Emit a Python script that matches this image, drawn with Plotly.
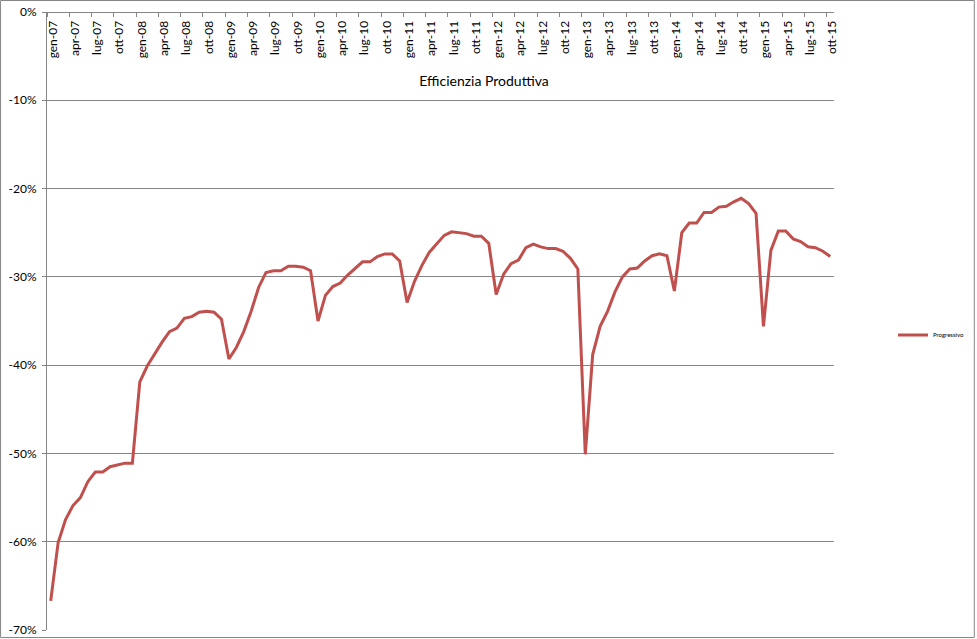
import plotly.graph_objects as go

# ---- data ----
month_names = ["gen", "feb", "mar", "apr", "mag", "giu", "lug", "ago", "set", "ott", "nov", "dic"]
years = ["07", "08", "09", "10", "11", "12", "13", "14", "15"]
categories = [f"{m}-{y}" for y in years for m in month_names][:106]  # gen-07 .. ott-15

progressivo = [
    -66.7, -60.1, -57.5, -55.9, -55.0, -53.2, -52.1, -52.1, -51.5, -51.3, -51.1, -51.1,   # 2007
    -41.9, -40.1, -38.7, -37.4, -36.2, -35.8, -34.7, -34.5, -34.0, -33.9, -34.0, -34.8,   # 2008
    -39.3, -38.0, -36.2, -33.9, -31.2, -29.5, -29.3, -29.3, -28.8, -28.8, -28.9, -29.3,   # 2009
    -35.0, -32.1, -31.1, -30.7, -29.8, -29.1, -28.3, -28.3, -27.7, -27.4, -27.4, -28.2,   # 2010
    -32.9, -30.5, -28.7, -27.2, -26.2, -25.3, -24.9, -25.0, -25.1, -25.4, -25.4, -26.2,   # 2011
    -32.0, -29.7, -28.5, -28.1, -26.7, -26.3, -26.6, -26.8, -26.8, -27.1, -27.9, -29.1,   # 2012
    -50.1, -38.8, -35.6, -33.9, -31.7, -30.0, -29.1, -29.0, -28.2, -27.6, -27.4, -27.6,   # 2013
    -31.6, -25.0, -23.9, -23.9, -22.7, -22.7, -22.1, -22.0, -21.5, -21.1, -21.7, -22.8,   # 2014
    -35.6, -27.0, -24.8, -24.8, -25.7, -26.0, -26.6, -26.7, -27.1, -27.7,                 # 2015
]
y_ticks = [0, -10, -20, -30, -40, -50, -60, -70]
y_tick_labels = [f"{v}%" for v in y_ticks]

title_text = "Efficienzia Produttiva"
series_name = "Progressivo"

# ---- figure ----
W, H = 977, 639
ML, MR, MT, MB = 47, 142, 12, 9
pw, ph = W - ML - MR, H - MT - MB
grid = "#868686"
xrange_ = [-0.5, len(categories) - 0.5]

fig = go.Figure()
# helper (invisible) trace so the label axis inside the plot has the categories
fig.add_trace(go.Scatter(
    x=categories, y=progressivo, mode="lines", xaxis="x2", yaxis="y",
    line=dict(color="rgba(0,0,0,0)", width=0), showlegend=False, hoverinfo="skip",
))
fig.add_trace(go.Scatter(
    x=categories, y=progressivo, mode="lines", name=series_name,
    line=dict(color="#C0504D", width=3),
))

fig.update_layout(
    width=W, height=H,
    margin=dict(l=ML, r=MR, t=MT, b=MB, pad=0),
    paper_bgcolor="white", plot_bgcolor="white",
    font=dict(family="Lato, 'Liberation Sans', sans-serif", color="black", size=12),
    showlegend=True,
    legend=dict(
        x=(893 - ML) / pw, y=(H - MB - 335) / ph, xanchor="left", yanchor="middle",
        font=dict(size=6, color="black"), bgcolor="rgba(0,0,0,0)",
        itemwidth=30, tracegroupgap=0,
    ),
    title=dict(text=title_text, x=484 / W, xanchor="center", xref="container",
               y=1 - 81 / H, yanchor="middle", yref="container",
               font=dict(size=14, color="black")),
    xaxis=dict(
        type="category", range=xrange_, categoryorder="array", categoryarray=categories,
        showticklabels=False, ticks="", showline=False, showgrid=False,
        zeroline=False, fixedrange=True, automargin=False,
    ),
    xaxis2=dict(
        type="category", overlaying="x", anchor="free", position=1, side="bottom",
        range=xrange_, categoryorder="array", categoryarray=categories,
        tickmode="linear", tick0=0, dtick=3, tickson="boundaries",
        ticks="outside", ticklen=4, tickcolor=grid, tickwidth=1,
        ticklabelstandoff=3, ticklabelshift=2,
        tickangle=-90, showline=True, linecolor=grid, linewidth=1, showgrid=False,
        tickfont=dict(size=12), fixedrange=True, zeroline=False, automargin=False,
    ),
    yaxis=dict(
        range=[-70, 0], tickmode="array", tickvals=y_ticks, ticktext=y_tick_labels,
        showgrid=True, gridcolor=grid, gridwidth=1,
        showline=True, linecolor=grid, linewidth=1,
        ticks="outside", ticklen=4, tickcolor=grid, ticklabelstandoff=3,
        zeroline=False, tickfont=dict(size=12), fixedrange=True, automargin=False,
    ),
)

# outer chart border
fig.add_shape(type="rect", xref="paper", yref="paper",
              x0=(0.5 - ML) / pw, x1=(975.5 - ML) / pw,
              y0=(H - MB - 637.5) / ph, y1=(H - MB - 0.5) / ph,
              line=dict(color=grid, width=1), fillcolor="rgba(0,0,0,0)", layer="above")

fig.write_html(
    "out.html",
    config={"displayModeBar": False},
    post_script="document.body.style.margin='0';document.body.style.overflow='hidden';",
)
